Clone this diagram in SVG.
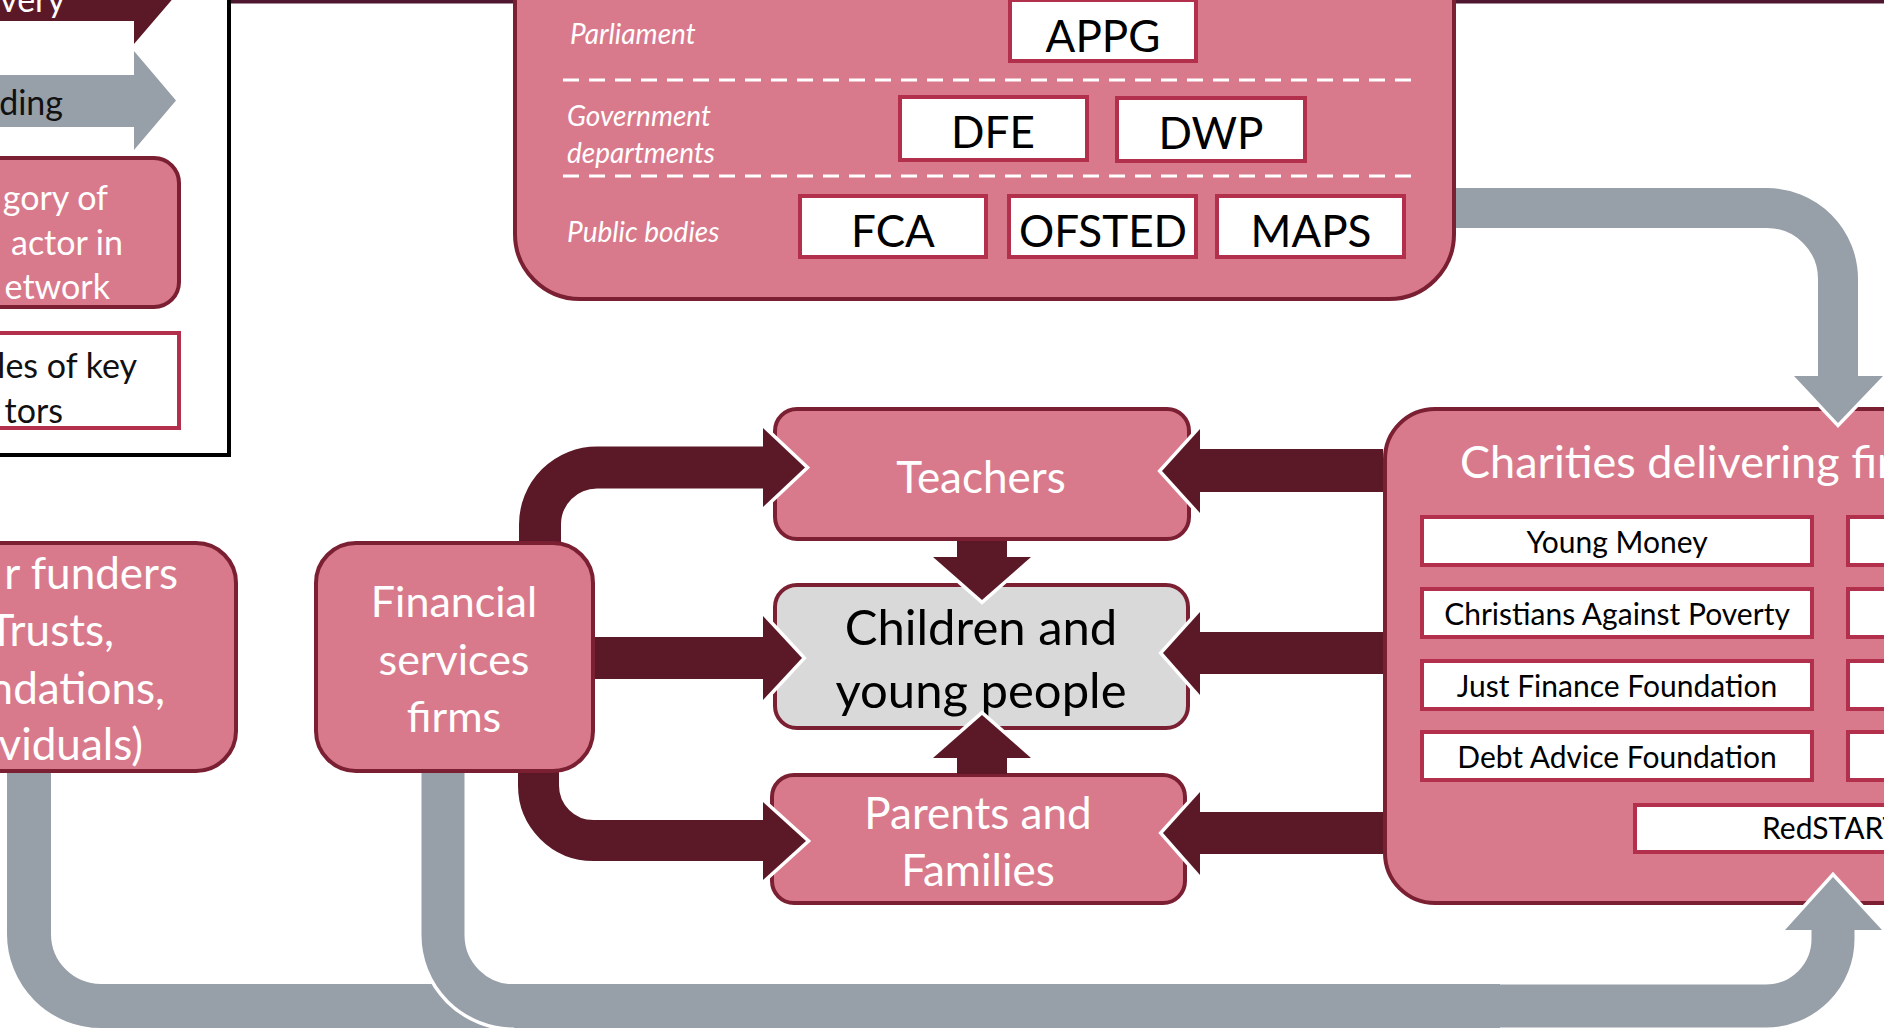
<svg xmlns="http://www.w3.org/2000/svg" width="1884" height="1028" viewBox="0 0 1884 1028">
  <style>
    text { font-family: Lato, "Open Sans", "Liberation Sans", sans-serif; }
    .cat { fill: #d97a8c; stroke: #7b1f33; stroke-width: 4; }
    .core { fill: #d9d9d9; stroke: #7b1f33; stroke-width: 4; }
    .org { fill: #ffffff; stroke: #b3304c; stroke-width: 4; }
    .lbl { fill: #ffffff; font-size: 44px; text-anchor: middle; }
    .core-t { fill: #000000; font-size: 49px; text-anchor: middle; }
    .org-t { fill: #000000; font-size: 30px; text-anchor: middle; }
    .gov-t { fill: #000000; font-size: 44px; text-anchor: middle; }
    .tier { fill: #ffffff; font-size: 28px; font-style: italic; }
    .dash { stroke: #ffffff; stroke-width: 3; stroke-dasharray: 16 10; fill: none; }
    .deliv { fill: #5b1928; }
    .deliv-s { fill: none; stroke: #5b1928; }
    .fund { fill: #979fa8; }
    .fund-s { fill: none; stroke: #979fa8; }
    .halo { fill: none; stroke: #ffffff; stroke-width: 7; stroke-linejoin: miter; }
    .leg { font-size: 34px; text-anchor: end; }
  </style>

  <!-- top frame edge -->
  <line x1="228" y1="1.5" x2="1884" y2="1.5" stroke="#4f1630" stroke-width="4"/>

  <!-- legend -->
  <g id="legend">
    <rect x="-10" y="-10" width="239" height="465" fill="#ffffff" stroke="#000000" stroke-width="4"/>
    <path class="deliv" d="M-10,-31 H134 V-54 L176,-5 L134,44 V21 H-10 Z"/>
    <text class="leg" x="65" y="12" fill="#ffffff">very</text>
    <path class="fund" d="M-10,75 H134 V51 L176,100.5 L134,150 V127 H-10 Z"/>
    <text class="leg" x="63" y="115" fill="#111111">ding</text>
    <rect class="cat" x="-40" y="158" width="219" height="149" rx="25"/>
    <text class="leg" x="108" y="210" fill="#ffffff">gory of</text>
    <text class="leg" x="123" y="255" fill="#ffffff">actor in</text>
    <text class="leg" x="110" y="299" fill="#ffffff">etwork</text>
    <rect class="org" x="-40" y="333" width="219" height="95"/>
    <text class="leg" x="137" y="378" fill="#111111">les of key</text>
    <text class="leg" x="63" y="423" fill="#111111">tors</text>
  </g>

  <!-- recipient nodes -->
  <g id="teachers">
    <rect class="cat" x="775" y="409" width="414" height="130" rx="22"/>
    <text class="lbl" x="981" y="493">Teachers</text>
  </g>
  <g id="children">
    <rect class="core" x="775" y="585" width="413" height="143" rx="22"/>
    <text class="core-t" x="981" y="645">Children and</text>
    <text class="core-t" x="981" y="708">young people</text>
  </g>
  <g id="parents">
    <rect class="cat" x="772" y="775" width="413" height="128" rx="22"/>
    <text class="lbl" x="978" y="829">Parents and</text>
    <text class="lbl" x="978" y="886">Families</text>
  </g>
  <g id="charities">
    <rect class="cat" x="1385" y="409" width="620" height="494" rx="50"/>
    <text x="1460" y="478" fill="#ffffff" font-size="45">Charities delivering fin</text>
    <rect class="org" x="1422" y="517" width="390" height="48"/>
    <text class="org-t" x="1617" y="553">Young Money</text>
    <rect class="org" x="1422" y="589" width="390" height="48"/>
    <text class="org-t" x="1617" y="625">Christians Against Poverty</text>
    <rect class="org" x="1422" y="661" width="390" height="48"/>
    <text class="org-t" x="1617" y="697">Just Finance Foundation</text>
    <rect class="org" x="1422" y="732" width="390" height="48"/>
    <text class="org-t" x="1617" y="768">Debt Advice Foundation</text>
    <rect class="org" x="1848" y="517" width="390" height="48"/>
    <rect class="org" x="1848" y="589" width="390" height="48"/>
    <rect class="org" x="1848" y="661" width="390" height="48"/>
    <rect class="org" x="1848" y="732" width="390" height="48"/>
    <rect class="org" x="1635" y="805" width="400" height="47"/>
    <text x="1762" y="839" fill="#000000" font-size="30">RedSTART</text>
  </g>

  <!-- connectors: delivery (dark) and funding (grey) -->
  <g id="connectors">
    <!-- financial services -> teachers -->
    <path class="deliv-s" stroke-width="42" d="M540,560 V524.5 A57,57 0 0 1 597,467.5 H766"/>
    <polyline class="halo" points="763,428 805,467.5 763,507"/>
    <polygon class="deliv" points="763,428 805,467.5 763,507"/>
    <!-- financial services -> children -->
    <path class="deliv-s" stroke-width="42" d="M580,658 H766"/>
    <polyline class="halo" points="763,616 802,658 763,700"/>
    <polygon class="deliv" points="763,616 802,658 763,700"/>
    <!-- financial services -> parents -->
    <path class="deliv-s" stroke-width="41" d="M538.5,760 V785.5 A55,55 0 0 0 593.5,840.5 H766"/>
    <polyline class="halo" points="763,802 806,841 763,880"/>
    <polygon class="deliv" points="763,802 806,841 763,880"/>
    <!-- teachers -> children -->
    <rect class="deliv" x="957" y="541" width="50" height="18"/>
    <polyline class="halo" points="933,557 982,600 1031,557"/>
    <polygon class="deliv" points="933,557 982,600 1031,557"/>
    <!-- parents -> children -->
    <rect class="deliv" x="957" y="756" width="50" height="18"/>
    <polyline class="halo" points="933,758 982,715 1031,758"/>
    <polygon class="deliv" points="933,758 982,715 1031,758"/>
    <!-- charities -> teachers / children / parents -->
    <rect class="deliv" x="1198" y="449" width="185" height="43"/>
    <polyline class="halo" points="1200,429 1162,471 1200,513"/>
    <polygon class="deliv" points="1200,429 1162,471 1200,513"/>
    <rect class="deliv" x="1198" y="632" width="185" height="42"/>
    <polyline class="halo" points="1200,612 1163,653 1200,695"/>
    <polygon class="deliv" points="1200,612 1163,653 1200,695"/>
    <rect class="deliv" x="1198" y="812" width="185" height="42"/>
    <polyline class="halo" points="1200,792 1163,833 1200,875"/>
    <polygon class="deliv" points="1200,792 1163,833 1200,875"/>

    <!-- government -> charities -->
    <path class="fund-s" stroke-width="40" d="M1440,208 H1767 A71,71 0 0 1 1838,279 V378"/>
    <polyline class="halo" points="1794,376 1838,423 1883,376"/>
    <polygon class="fund" points="1794,376 1838,423 1883,376"/>
    <!-- other funders -> charities -->
    <path class="fund-s" stroke-width="44" d="M29,740 V934 A72,72 0 0 0 101,1006 H1500"/>
    <!-- financial services -> charities -->
    <path d="M421.5,935 A92.5,92.5 0 0 0 514,1027.5" fill="none" stroke="#ffffff" stroke-width="7"/>
    <path class="fund-s" stroke-width="43" d="M443,740 V935 A71,71 0 0 0 514,1006 H1766 A67,67 0 0 0 1833,939 V928"/>
    <polyline class="halo" points="1785,930 1833,877 1882,930"/>
    <polygon class="fund" points="1785,930 1833,877 1882,930"/>
  </g>

  <!-- source nodes -->
  <g id="financial-services">
    <rect class="cat" x="316" y="543" width="277" height="228" rx="40"/>
    <text class="lbl" x="454" y="617" style="font-size:43px">Financial</text>
    <text class="lbl" x="454" y="675" style="font-size:43px">services</text>
    <text class="lbl" x="454" y="732" style="font-size:43px">firms</text>
  </g>
  <g id="other-funders">
    <rect class="cat" x="-60" y="543" width="296" height="228" rx="40"/>
    <text class="lbl" x="178" y="589" style="text-anchor:end">r funders</text>
    <text class="lbl" x="114" y="646" style="text-anchor:end">Trusts,</text>
    <text class="lbl" x="165" y="704" style="text-anchor:end">ndations,</text>
    <text class="lbl" x="143" y="760" style="text-anchor:end">viduals)</text>
  </g>
  <g id="government">
    <rect class="cat" x="515" y="-100" width="939" height="399" rx="65"/>
    <text class="tier" x="570" y="44">Parliament</text>
    <text class="tier" x="567" y="126">Government</text>
    <text class="tier" x="567" y="163">departments</text>
    <text class="tier" x="567" y="242">Public bodies</text>
    <line class="dash" x1="563" y1="80" x2="1412" y2="80"/>
    <line class="dash" x1="563" y1="176" x2="1412" y2="176"/>
    <g id="appg">
      <rect class="org" x="1010" y="0" width="186" height="61"/>
      <text class="gov-t" x="1103" y="52">APPG</text>
    </g>
    <g id="dfe">
      <rect class="org" x="900" y="97" width="187" height="63"/>
      <text class="gov-t" x="993" y="148">DFE</text>
    </g>
    <g id="dwp">
      <rect class="org" x="1117" y="98" width="188" height="63"/>
      <text class="gov-t" x="1211" y="149">DWP</text>
    </g>
    <g id="fca">
      <rect class="org" x="800" y="196" width="186" height="61"/>
      <text class="gov-t" x="893" y="247">FCA</text>
    </g>
    <g id="ofsted">
      <rect class="org" x="1009" y="196" width="187" height="61"/>
      <text class="gov-t" x="1103" y="247">OFSTED</text>
    </g>
    <g id="maps">
      <rect class="org" x="1217" y="196" width="187" height="61"/>
      <text class="gov-t" x="1311" y="247">MAPS</text>
    </g>
  </g>
</svg>
